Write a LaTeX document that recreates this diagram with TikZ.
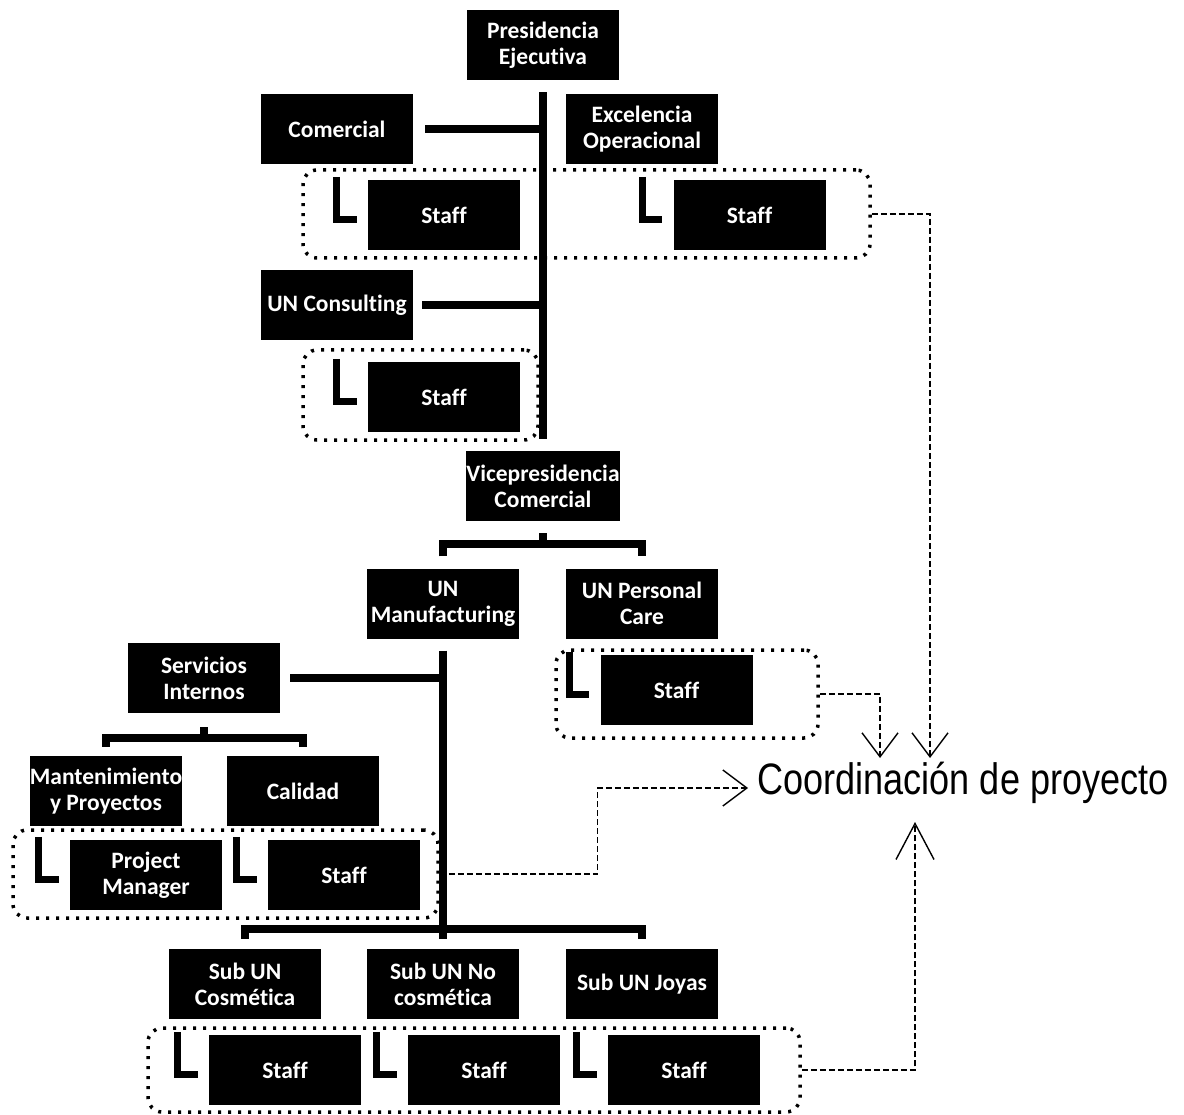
\documentclass[tikz,border=0pt]{standalone}
\usepackage{fontspec}
\usepackage{graphicx}
\newfontfamily\boxfont{Carlito}[Ligatures=CommonOff]
\newfontfamily\labelfont{Liberation Sans}
\usetikzlibrary{arrows.meta}
\begin{document}
\begin{tikzpicture}[x=1pt,y=-1pt,
  unit/.style={fill=black,text=white,font=\boxfont\bfseries\fontsize{23.5}{26}\selectfont,
    align=center,inner sep=0pt,minimum width=152pt,minimum height=70pt},
  group/.style={draw=black,line width=3.5pt,dash pattern=on 3pt off 7pt,rounded corners=14pt,
    inner sep=0pt},
  bar/.style={line width=8pt,line join=miter},
  hook/.style={line width=7pt,line join=miter},
  link/.style={line width=1.4pt,dash pattern=on 6pt off 3pt,
    -{Straight Barb[length=24pt,width=36pt,line width=1.4pt]}},
  biglink/.style={link,-{Straight Barb[length=36pt,width=38pt,line width=1.4pt]}},
]
\useasboundingbox (0,0) rectangle (1184,1115);

% dotted staff groups
\node[group,minimum width=567pt,minimum height=88pt] (g1) at (586.5,214) {};
\node[group,minimum width=235pt,minimum height=90pt] (g2) at (420.5,395) {};
\node[group,minimum width=262pt,minimum height=88pt] (g3) at (687,694) {};
\node[group,minimum width=425pt,minimum height=88pt] (g4) at (225.5,874) {};
\node[group,minimum width=652pt,minimum height=84pt] (g5) at (474,1070) {};

% coordination label and arrow tips
\node[font=\labelfont\fontsize{44}{50}\selectfont,inner sep=0pt] (coord) at (963,783)
  {\scalebox{0.82}[1]{Coordinación de proyecto}};
\coordinate (tipA) at (930,758);
\coordinate (tipB) at (880,758);
\coordinate (tipC) at (748,788);
\coordinate (tipD) at (915,822);

\draw[link] (g1.east) -| (tipA);
\draw[link] (g3.east) -| (tipB);
\draw[link] (g4.east) -- ++(158,0) |- (tipC);
\draw[biglink] (g5.east) -| (tipD);

% units
\node[unit] (pres) at (543,45) {Presidencia\\Ejecutiva};
\node[unit] (com) at (337,129) {Comercial};
\node[unit] (exc) at (642,129) {Excelencia\\Operacional};
\node[unit] (staff1) at (444,215) {Staff};
\node[unit] (staff2) at (749.5,215) {Staff};
\node[unit] (uncons) at (337,305) {UN Consulting};
\node[unit] (staff3) at (444,397) {Staff};
\node[unit] (vice) at (543,486) {Vicepresidencia\\Comercial};
\node[unit] (unman) at (443,603.5) {UN\\Manufacturing};
\node[unit] (unpc) at (642,603.5) {UN Personal\\Care};
\node[unit] (staff4) at (676.5,690) {Staff};
\node[unit] (serv) at (204,678) {Servicios\\Internos};
\node[unit] (mant) at (106,791) {Mantenimiento\\y Proyectos};
\node[unit] (cal) at (303,791) {Calidad};
\node[unit] (pm) at (146,875) {Project\\Manager};
\node[unit] (staff5) at (344,875) {Staff};
\node[unit] (sub1) at (245,984) {Sub UN\\Cosmética};
\node[unit] (sub2) at (443,984) {Sub UN No\\cosmética};
\node[unit] (sub3) at (642,984) {Sub UN Joyas};
\node[unit] (staff6) at (285,1070) {Staff};
\node[unit] (staff7) at (484,1070) {Staff};
\node[unit] (staff8) at (684,1070) {Staff};

% reporting lines
\draw[bar] ([yshift=-12pt]pres.south) -- ([yshift=12pt]vice.north);
\draw[bar] ([xshift=12pt]com.east) -- (com.east -| pres.south);
\draw[bar] ([xshift=9pt]uncons.east) -- (uncons.east -| pres.south);
\draw[bar] ([yshift=-12pt]vice.south) -- ([yshift=-25pt]vice.south);
\draw[bar] ([yshift=12pt]unman.north) -- ++(0,-12) -| ([yshift=12pt]unpc.north);
\draw[bar] ([yshift=-12pt]unman.south) -- ([yshift=10pt]sub2.north);
\draw[bar] ([yshift=10pt]sub1.north) -- ++(0,-10) -| ([yshift=10pt]sub3.north);
\draw[bar] ([xshift=10pt]serv.east) -- (serv.east -| unman.south);
\draw[bar] ([yshift=-14pt]serv.south) -- ([yshift=-25pt]serv.south);
\draw[bar] ([yshift=9pt]mant.north) -- ++(0,-9) -| ([yshift=9pt]cal.north);

% staff marks
\foreach \s in {staff1,staff2,staff3,staff4,pm,staff5,staff6,staff7,staff8}
  \draw[hook] ([xshift=-31pt,yshift=3pt]\s.north west) -- ++(0,43) -- ++(20,0);

\end{tikzpicture}
\end{document}
